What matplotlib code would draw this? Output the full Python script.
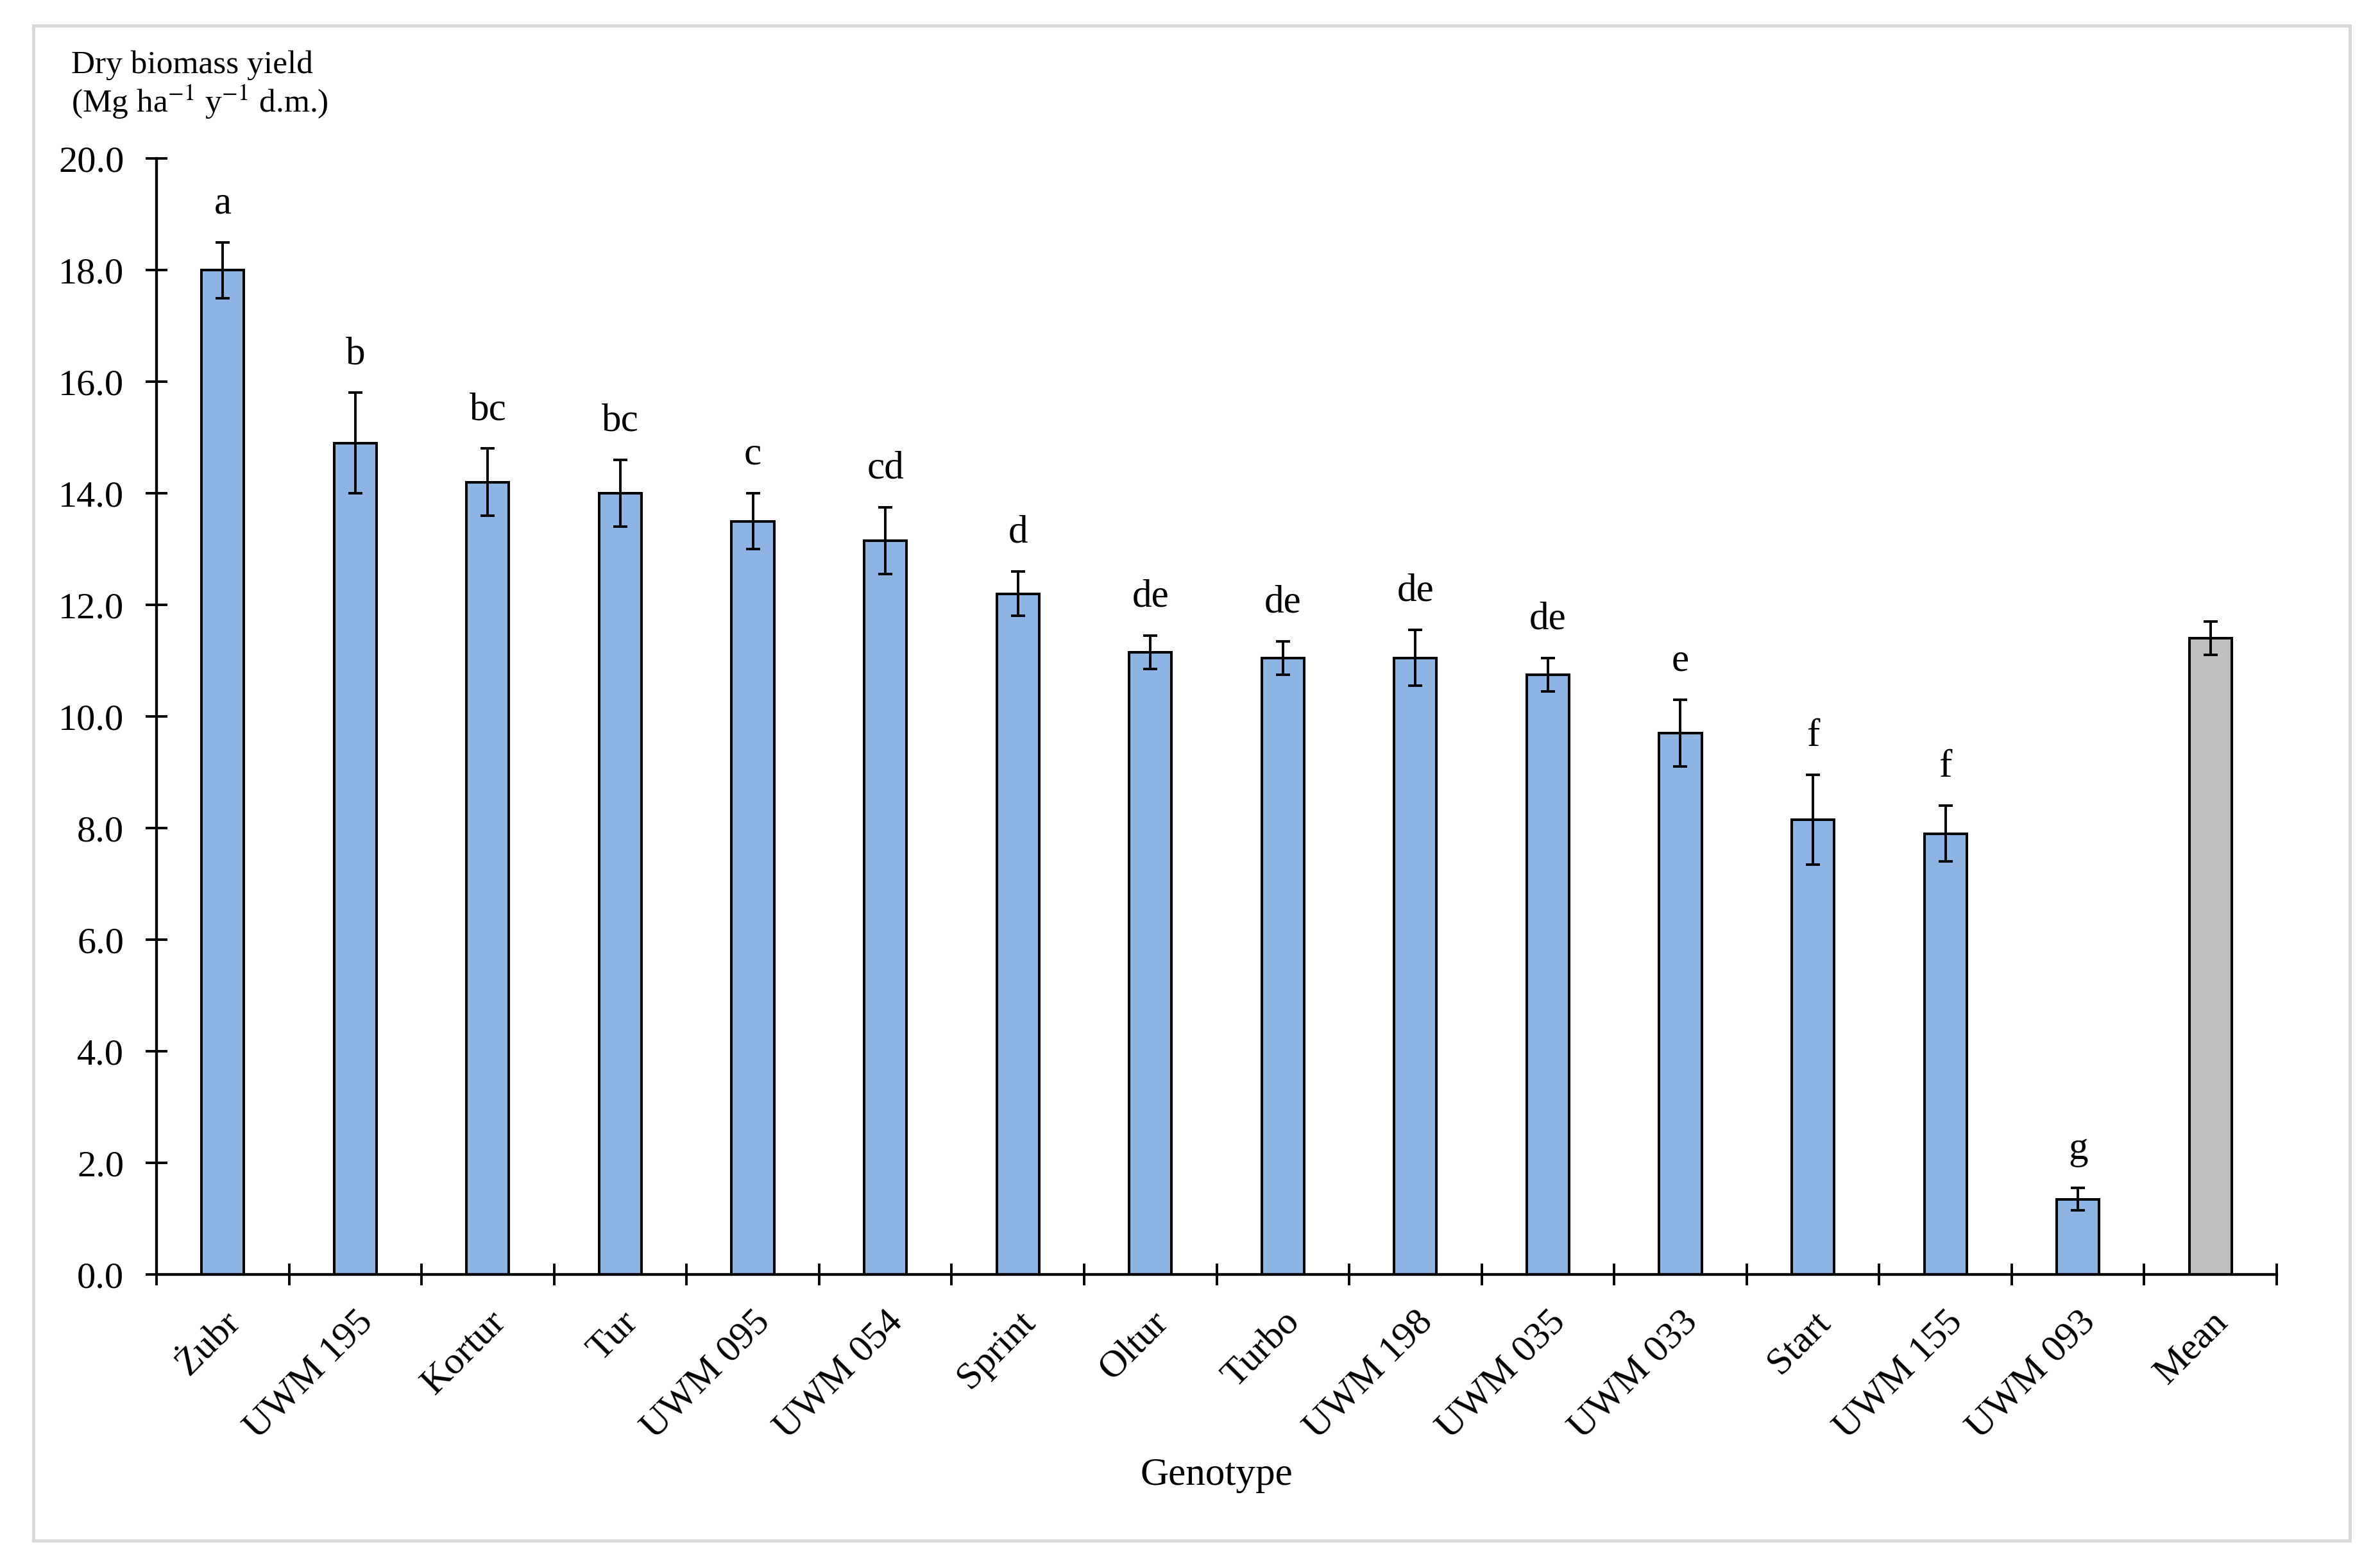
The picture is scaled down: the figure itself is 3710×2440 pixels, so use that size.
import matplotlib
matplotlib.use("Agg")
import matplotlib.pyplot as plt
from matplotlib.patches import Rectangle
import numpy as np

plt.rcParams["font.family"] = ["Liberation Serif", "DejaVu Serif"]
plt.rcParams["mathtext.fontset"] = "stix"

# data
genotypes = ["Żubr", "UWM 195", "Kortur", "Tur", "UWM 095", "UWM 054", "Sprint",
             "Oltur", "Turbo", "UWM 198", "UWM 035", "UWM 033", "Start",
             "UWM 155", "UWM 093", "Mean"]
yields = [18.0, 14.9, 14.2, 14.0, 13.5, 13.15, 12.2, 11.15, 11.05, 11.05,
          10.75, 9.7, 8.15, 7.9, 1.35, 11.4]
errors = [0.5, 0.9, 0.6, 0.6, 0.5, 0.6, 0.4, 0.3, 0.3, 0.5, 0.3, 0.6, 0.8,
          0.5, 0.2, 0.3]
letters = ["a", "b", "bc", "bc", "c", "cd", "d", "de", "de", "de", "de", "e",
           "f", "f", "g", ""]
y_ticks = [0, 2, 4, 6, 8, 10, 12, 14, 16, 18, 20]

W, H = 3710, 2440
fig = plt.figure(figsize=(W / 100, H / 100), dpi=100)

# plot area in pixels
left, right, y0, y20 = 244, 3549, 1987, 247
ax = fig.add_axes([left / W, 1 - y0 / H, (right - left) / W, (y0 - y20) / H])

x = np.arange(len(genotypes))
colors = ["#8EB4E3"] * (len(genotypes) - 1) + ["#BFBFBF"]

ax.bar(x, yields, width=0.32, color=colors, edgecolor="black", linewidth=2.9,
       yerr=errors, capsize=7.6,
       error_kw=dict(elinewidth=2.8, capthick=2.8, ecolor="black"), zorder=2)

# significance letters
for xi, v, e, lab in zip(x, yields, errors, letters):
    if lab:
        ax.text(xi, v + e + 0.52, lab, ha="center", va="baseline", fontsize=44)

ax.set_xlim(-0.5, len(genotypes) - 0.5)
ax.set_ylim(0, 20)

ax.spines["top"].set_visible(False)
ax.spines["right"].set_visible(False)
ax.spines["left"].set_linewidth(3.1)
ax.spines["bottom"].set_linewidth(3.1)

ax.set_yticks(y_ticks)
ax.set_yticklabels([f"{t:.1f}" for t in y_ticks], fontsize=42)
ax.tick_params(axis="y", direction="inout", length=25, width=2.8, pad=24)

# major ticks on the category borders, labels on the centres
ax.set_xticks(np.arange(-0.5, len(genotypes), 1))
ax.set_xticklabels([])
ax.tick_params(axis="x", which="major", direction="inout", length=24, width=2.8)
ax.set_xticks(x, minor=True)
ax.set_xticklabels(genotypes, minor=True, rotation=45, ha="right",
                   rotation_mode="anchor", fontsize=43)
ax.tick_params(axis="x", which="minor", length=0, pad=34)

# axis titles
fig.text(111 / W, 1 - 102 / H, "Dry biomass yield", ha="left", va="center",
         fontsize=37)
fig.text(111 / W, 1 - 159 / H, r"(Mg ha$^{-1}$ y$^{-1}$ d.m.)", ha="left",
         va="center", fontsize=37)
fig.text((left + right) / 2 / W, 1 - 2300 / H, "Genotype", ha="center",
         va="center", fontsize=44)

# light grey frame round the whole chart
fig.patches.append(Rectangle((52 / W, 1 - 2402 / H), (3663 - 52) / W,
                             (2402 - 40) / H, transform=fig.transFigure,
                             fill=False, edgecolor="#d9d9d9", linewidth=3.6))

fig.savefig("out.png", dpi=100, facecolor="white")
